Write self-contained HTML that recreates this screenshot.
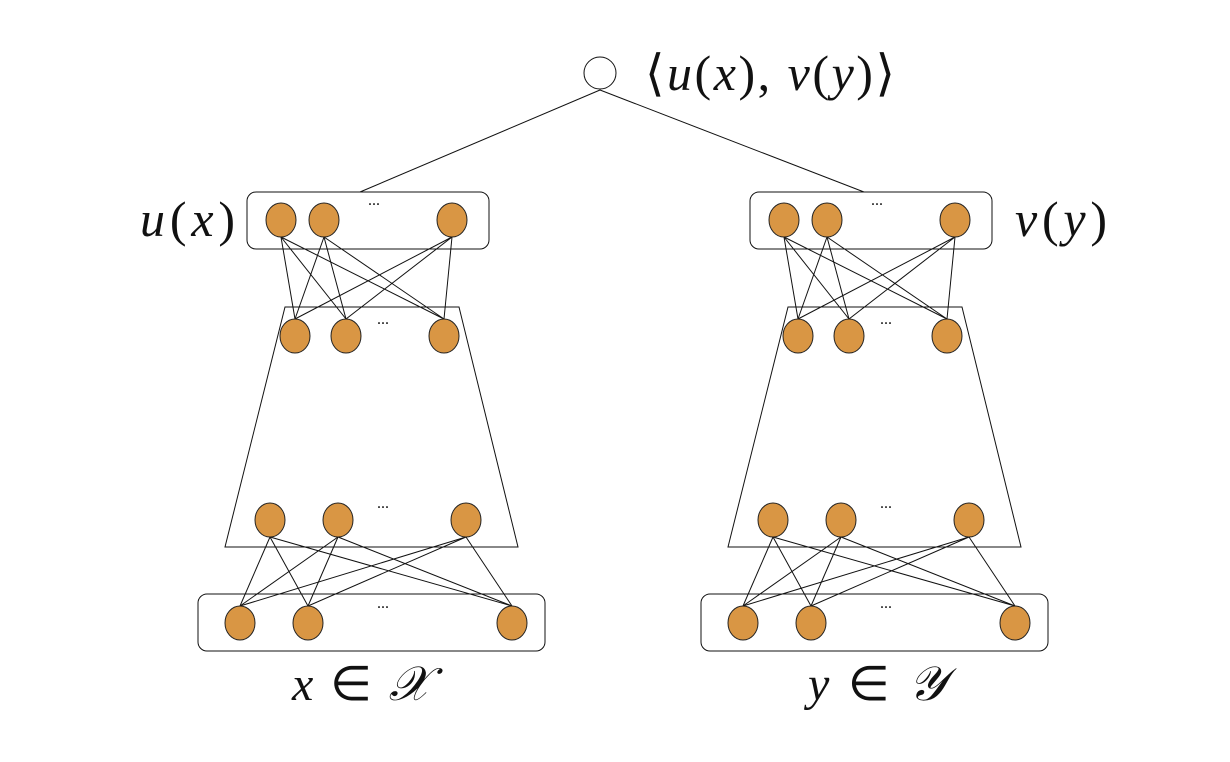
<!DOCTYPE html>
<html><head><meta charset="utf-8"><style>
html,body{margin:0;padding:0;background:#fff;width:1230px;height:762px;overflow:hidden}
text{font-family:"Liberation Serif",serif;font-style:italic;fill:#111}
.n{fill:#d99644;stroke:#222;stroke-width:1}
.l{stroke:#111;stroke-width:1;fill:none}
.d{font-style:normal;font-size:16px}
</style></head><body>
<svg width="1230" height="762" viewBox="0 0 1230 762" xmlns="http://www.w3.org/2000/svg">
<circle cx="600" cy="73" r="16" fill="#fff" stroke="#111"/>
<line class="l" x1="600" y1="90" x2="360" y2="192"/>
<line class="l" x1="600" y1="90" x2="864" y2="192"/>
<text x="645" y="90" font-size="50" textLength="250" lengthAdjust="spacing" style="font-style:normal">⟨<tspan font-style="italic">u</tspan>(<tspan font-style="italic">x</tspan>), <tspan font-style="italic">v</tspan>(<tspan font-style="italic">y</tspan>)⟩</text>
<text x="140" y="236" font-size="50" textLength="95" lengthAdjust="spacing"><tspan>u</tspan><tspan style="font-style:normal">(</tspan>x<tspan style="font-style:normal">)</tspan></text>
<text x="1015" y="236" font-size="50" textLength="92" lengthAdjust="spacing"><tspan>v</tspan><tspan style="font-style:normal">(</tspan>y<tspan style="font-style:normal">)</tspan></text>
<text x="292" y="700" font-size="48" textLength="138" lengthAdjust="spacing">x <tspan style="font-style:normal">∈</tspan> 𝒳</text>
<text x="808" y="700" font-size="48" textLength="138" lengthAdjust="spacing">y <tspan style="font-style:normal">∈</tspan> 𝒴</text>
<g id="tower">
<rect class="l" x="247" y="192" width="242" height="57" rx="9"/>
<polygon class="l" points="285,307 459,307 518,547 225,547"/>
<rect class="l" x="198" y="594" width="347" height="57" rx="9"/>
<g class="l">
<line x1="281" y1="237" x2="295" y2="319"/><line x1="281" y1="237" x2="346" y2="319"/><line x1="281" y1="237" x2="444" y2="319"/>
<line x1="324" y1="237" x2="295" y2="319"/><line x1="324" y1="237" x2="346" y2="319"/><line x1="324" y1="237" x2="444" y2="319"/>
<line x1="452" y1="237" x2="295" y2="319"/><line x1="452" y1="237" x2="346" y2="319"/><line x1="452" y1="237" x2="444" y2="319"/>
<line x1="270" y1="537" x2="240" y2="606"/><line x1="270" y1="537" x2="308" y2="606"/><line x1="270" y1="537" x2="512" y2="606"/>
<line x1="338" y1="537" x2="240" y2="606"/><line x1="338" y1="537" x2="308" y2="606"/><line x1="338" y1="537" x2="512" y2="606"/>
<line x1="466" y1="537" x2="240" y2="606"/><line x1="466" y1="537" x2="308" y2="606"/><line x1="466" y1="537" x2="512" y2="606"/>
</g>
<ellipse class="n" cx="281" cy="220" rx="15" ry="17"/><ellipse class="n" cx="324" cy="220" rx="15" ry="17"/><ellipse class="n" cx="452" cy="220" rx="15" ry="17"/>
<ellipse class="n" cx="295" cy="336" rx="15" ry="17"/><ellipse class="n" cx="346" cy="336" rx="15" ry="17"/><ellipse class="n" cx="444" cy="336" rx="15" ry="17"/>
<ellipse class="n" cx="270" cy="520" rx="15" ry="17"/><ellipse class="n" cx="338" cy="520" rx="15" ry="17"/><ellipse class="n" cx="466" cy="520" rx="15" ry="17"/>
<ellipse class="n" cx="240" cy="623" rx="15" ry="17"/><ellipse class="n" cx="308" cy="623" rx="15" ry="17"/><ellipse class="n" cx="512" cy="623" rx="15" ry="17"/>
<text class="d" x="368" y="205">...</text>
<text class="d" x="377" y="324">...</text>
<text class="d" x="377" y="508">...</text>
<text class="d" x="377" y="608">...</text>
</g>
<use href="#tower" transform="translate(503,0)"/>
</svg>
</body></html>
